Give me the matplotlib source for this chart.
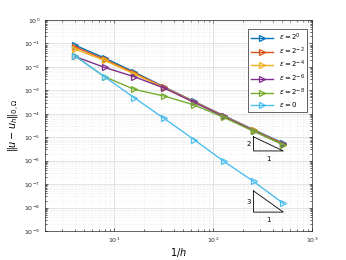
import numpy as np
import matplotlib
matplotlib.use("Agg")
import matplotlib.pyplot as plt
from matplotlib.ticker import LogLocator, NullFormatter

# mesh sizes 1/h
inv_h = [4, 8, 16, 32, 64, 128, 256, 512]

# errors
err_e0 = [0.085, 0.024, 0.0060, 0.00140, 0.00034, 8.4e-5, 2.1e-5, 5.6e-6]
err_e2 = [0.072, 0.021, 0.0055, 0.00135, 0.00033, 8.1e-5, 2.0e-5, 5.3e-6]
err_e4 = [0.058, 0.019, 0.0050, 0.00130, 0.00032, 7.9e-5, 1.95e-5, 5.1e-6]
err_e6 = [0.028, 0.0095, 0.0038, 0.00125, 0.00031, 7.7e-5, 1.9e-5, 4.9e-6]
err_e8 = [0.030, 0.0038, 0.0011, 0.00057, 0.00024, 7.0e-5, 1.8e-5, 4.7e-6]
err_0 = [0.030, 0.0038, 4.8e-4, 6.3e-5, 8.0e-6, 9.4e-7, 1.3e-7, 1.5e-8]

labels = [r'$\varepsilon = 2^{0}$', r'$\varepsilon = 2^{-2}$', r'$\varepsilon = 2^{-4}$',
          r'$\varepsilon = 2^{-6}$', r'$\varepsilon = 2^{-8}$', r'$\varepsilon = 0$']
colors = ['#0072bd', '#d95319', '#edb120', '#7e2f8e', '#77ac30', '#4dbeee']

# slope triangles: (x0, x1, bottom y, order)
tri_x = [256, 512]
tri_bottom = [2.6e-6, 6.4e-9]
tri_order = [2, 3]

fig = plt.figure(figsize=(3.46, 2.6), dpi=100)
ax = fig.add_axes([0.130, 0.1115, 0.772, 0.8115])

series = [err_e0, err_e2, err_e4, err_e6, err_e8, err_0]
for s, lab, c in zip(series, labels, colors):
    ax.loglog(inv_h, s, '-', marker='>', color=c, mfc='none', mec=c, ms=4,
              mew=0.9, lw=1.0, label=lab)

for yb, p in zip(tri_bottom, tri_order):
    x0, x1 = tri_x
    yt = yb * (x1 / x0) ** p
    ax.plot([x0, x0, x1, x0], [yt, yb, yb, yt], color='k', lw=0.6)
    ax.text(x0 * 0.94, np.sqrt(yt * yb), str(p), fontsize=5, ha='right', va='center')
    ax.text(np.sqrt(x0 * x1), yb * 0.62, '1', fontsize=5, ha='center', va='top')

ax.set_xlim(2, 1000)
ax.set_ylim(1e-9, 1)
ax.yaxis.set_major_locator(LogLocator(base=10, numticks=20))
ax.yaxis.set_minor_locator(LogLocator(base=10, subs=np.arange(2, 10), numticks=20))
ax.yaxis.set_minor_formatter(NullFormatter())
ax.xaxis.set_minor_formatter(NullFormatter())

ax.grid(True, which='major', color='#d9d9d9', lw=0.5)
ax.grid(True, which='minor', color='#e0e0e0', lw=0.4, ls=':')
ax.set_axisbelow(True)
ax.tick_params(which='both', direction='in', top=True, right=True, labelsize=4.5,
               colors='#262626', width=0.5)
ax.tick_params(which='major', length=2.5)
ax.tick_params(which='minor', length=1.5)
for sp in ax.spines.values():
    sp.set_linewidth(0.5)
    sp.set_color('#262626')

ax.set_xlabel(r'$1/h$', fontsize=7, labelpad=0.5)
ax.set_ylabel(r'$\|u - u_h\|_{0,\Omega}$', fontsize=7, labelpad=2)

leg = ax.legend(loc='upper right', fontsize=5, handlelength=3.2, labelspacing=0.35,
                borderpad=0.4, fancybox=False, edgecolor='#262626', framealpha=1,
                bbox_to_anchor=(0.995, 0.975))
leg.get_frame().set_linewidth(0.5)

fig.savefig('out.png', dpi=100)
